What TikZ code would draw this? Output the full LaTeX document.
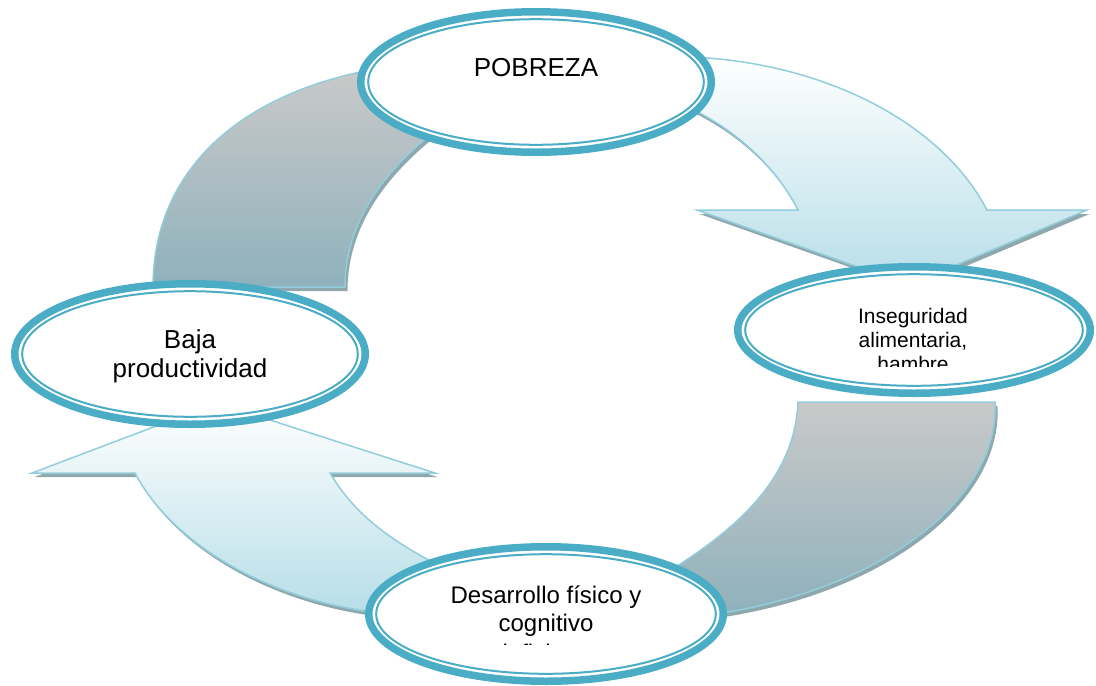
\documentclass[tikz,border=0pt]{standalone}
\usepackage{fontspec}
\setmainfont{Liberation Sans}
\usetikzlibrary{shapes.geometric}
\definecolor{teal5}{HTML}{4BACC6}
\definecolor{lblue}{HTML}{92CDDC}
\definecolor{lfill}{HTML}{B7DEE8}
\definecolor{gtop}{HTML}{C9C9C9}
\definecolor{gbot}{HTML}{8FB1BC}
\definecolor{shad}{HTML}{8FA8AE}
\begin{document}
\begin{tikzpicture}[x=1pt,y=-1pt,
  ring/.style={ellipse, draw=teal5, line width=7.5pt, fill=white, inner sep=0pt, outer sep=0pt},
  innerring/.style={draw=teal5, line width=2pt},
  lightarrow/.style={draw=lblue, line width=1.5pt, top color=white, bottom color=lfill, line join=miter},
  grayarrow/.style={draw=lblue, line width=1.5pt, top color=gtop, bottom color=gbot, line join=miter},
  shadowshape/.style={fill=shad, shift={(2.5,4)}},
  lbl/.style={anchor=base, inner sep=0pt, text=black}]
\useasboundingbox (0,0) rectangle (1096,686);

\def\arrowA{(153,287) .. controls (153,170) and (240,95) .. (370,70) -- (430,135) .. controls (375,180) and (345,230) .. (345,287) -- cycle}
\def\arrowB{(690,57) .. controls (820,62) and (940,120) .. (987,210) -- (1087,210) -- (909,285) -- (697,210) -- (798,210) .. controls (775,165) and (735,130) .. (690,108) -- cycle}
\def\arrowC{(798,402) -- (995,402) .. controls (1000,500) and (880,590) .. (715,614) -- (674,568) .. controls (750,520) and (795,470) .. (798,402) -- cycle}
\def\arrowD{(217,403) -- (435,473) -- (330,473) .. controls (355,515) and (390,540) .. (440,566) -- (372,612) .. controls (260,597) and (170,540) .. (135,473) -- (32,473) -- cycle}

% shadows
\fill[shadowshape] \arrowA;
\fill[shadowshape] \arrowB;
\fill[shadowshape] \arrowC;
\fill[shadowshape] \arrowD;

% curved block arrows
\path[grayarrow] \arrowA;
\path[lightarrow] \arrowB;
\path[grayarrow] \arrowC;
\path[lightarrow] \arrowD;

% ellipses
\node[ring, minimum width=350.5pt, minimum height=140.5pt] (pob) at (536,82) {};
\draw[innerring] (pob.center) ellipse [x radius=167.8pt, y radius=62.8pt];
\node[ring, minimum width=352.5pt, minimum height=126.5pt] (ins) at (914,330) {};
\draw[innerring] (ins.center) ellipse [x radius=168.8pt, y radius=55.8pt];
\node[ring, minimum width=354.5pt, minimum height=134.5pt] (des) at (546,614) {};
\draw[innerring] (des.center) ellipse [x radius=169.8pt, y radius=59.8pt];
\node[ring, minimum width=350.5pt, minimum height=140.5pt] (baj) at (190,354) {};
\draw[innerring] (baj.center) ellipse [x radius=167.8pt, y radius=62.8pt];

% texts
\node[lbl, font=\fontsize{26pt}{30pt}\selectfont] (tpob) at (536,76) {POBREZA};

\node[lbl, font=\fontsize{26pt}{30pt}\selectfont] (tbaj1) at (190,348) {Baja};
\node[lbl, font=\fontsize{26pt}{30pt}\selectfont] (tbaj2) at (190,377) {productividad};

\node[lbl, font=\fontsize{21pt}{25pt}\selectfont] (tins1) at (913,323) {Inseguridad};
\node[lbl, font=\fontsize{21pt}{25pt}\selectfont] (tins2) at (913,347) {alimentaria,};
\begin{scope}
\clip (740,350) rectangle (1090,366);
\node[lbl, font=\fontsize{21pt}{25pt}\selectfont] (tins3) at (913,371) {hambre};
\end{scope}

\node[lbl, font=\fontsize{24pt}{28pt}\selectfont] (tdes1) at (546,603) {Desarrollo físico y};
\node[lbl, font=\fontsize{24pt}{28pt}\selectfont] (tdes2) at (546,631) {cognitivo};
\begin{scope}
\clip (380,636) rectangle (720,644);
\node[lbl, font=\fontsize{24pt}{28pt}\selectfont] (tdes3) at (546,661) {deficiente};
\end{scope}
\end{tikzpicture}
\end{document}
